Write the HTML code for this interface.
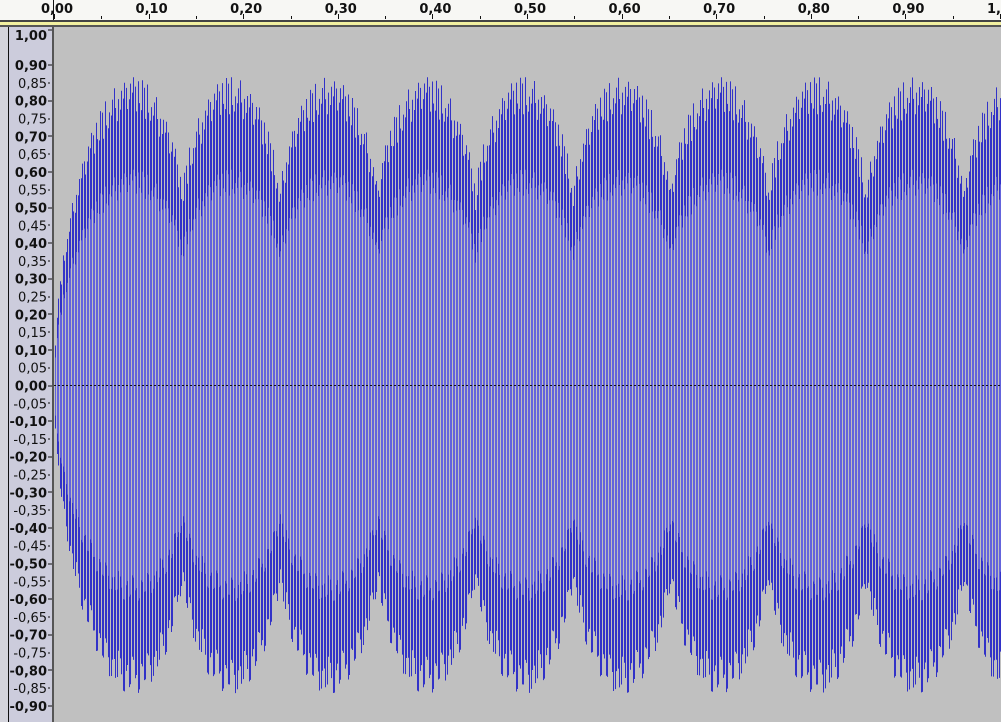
<!DOCTYPE html>
<html><head><meta charset="utf-8"><style>
html,body{margin:0;padding:0;width:1001px;height:722px;overflow:hidden;background:#c0c0c0}
svg{display:block;font-family:"DejaVu Sans","Liberation Sans",sans-serif}
</style></head><body>
<svg id="chart" width="1001" height="722" xmlns="http://www.w3.org/2000/svg">
<rect x="0" y="0" width="1001" height="21" fill="#f7f7f4"/>
<rect x="0" y="20" width="1001" height="2" fill="#444"/>
<rect x="0" y="22" width="1001" height="3" fill="#f2f0a0"/>
<rect x="0" y="25" width="1001" height="2" fill="#555"/>
<rect x="0" y="27" width="9" height="695" fill="#d4d4dc"/>
<rect x="9" y="27" width="44" height="695" fill="#ccccdc"/>
<rect x="8" y="27" width="1" height="695" fill="#111"/>
<rect x="53" y="27" width="948" height="695" fill="#c0c0c0"/>
<g id="wave"></g>
<g id="axes"></g>
<rect x="52" y="27" width="2" height="695" fill="#555"/>
</svg>
<script>
// Chart data
const yTickValues = [1.0,0.9,0.85,0.8,0.75,0.7,0.65,0.6,0.55,0.5,0.45,0.4,0.35,0.3,0.25,0.2,0.15,0.1,0.05,0,-0.05,-0.1,-0.15,-0.2,-0.25,-0.3,-0.35,-0.4,-0.45,-0.5,-0.55,-0.6,-0.65,-0.7,-0.75,-0.8,-0.85,-0.9];
const xTickValues = [0,0.1,0.2,0.3,0.4,0.5,0.6,0.7,0.8,0.9,1.0];
const envelopeRange = [0.53, 0.866];
const beatFrequency = [9.68];
const firstBeatPeak = [0.0835];
const columnGain = [0.97,0.9,1.0,0.93,0.98,0.88,0.95,1.0,0.91,0.97,0.89,0.94,0.99,0.92];

const svg = document.getElementById('chart');
const NS = 'http://www.w3.org/2000/svg';
const X0 = 54, XS = 946, Y0 = 385.5, YS = 356;
const xScale = t => X0 + t*XS;
const yScale = v => Y0 - v*YS;
function mk(tag, attrs, parent){const e=document.createElementNS(NS,tag);for(const k in attrs)e.setAttribute(k,attrs[k]);parent.appendChild(e);return e;}
const fmt = v => (v<0?'-':'')+Math.abs(v).toFixed(2).replace('.',',');

const axes = document.getElementById('axes');
yTickValues.forEach(v=>{
  const y = yScale(v);
  const major = Math.abs(Math.round(v*100)%10)===0;
  const tk = mk('rect',{x:48,y:Math.round(y)-0.5,width:major?4:2,height:1,fill:'#111'},axes);
  
  
  let ly = y+5; if (v===1.0) ly = 40;
  const t = mk('text',{x:47,y:ly,'text-anchor':'end','font-size':'13','font-weight':major?'bold':'normal',fill:'#111'},axes);
  t.textContent = fmt(v);
  
  
});
xTickValues.forEach(v=>{
  const x = xScale(v);
  const tk = mk('rect',{x:Math.round(x),y:14,width:1,height:5,fill:'#111'},axes);
  
  
  const mx = mk('rect',{x:Math.round(xScale(v+0.05)),y:16,width:1,height:3,fill:'#111'},axes);
  
  
  const t = mk('text',{x:x+3,y:13,'text-anchor':'middle','font-size':'13','font-weight':'bold',fill:'#111'},axes);
  t.textContent = fmt(v);
  
  
});
const cursor = mk('rect',{x:53,y:0,width:1,height:20,fill:'#111'},axes);



const wave = document.getElementById('wave');
const [vmin, vmax] = envelopeRange;
function env(t){
  if (t < firstBeatPeak[0]) {
    return vmax*Math.pow(Math.sin(Math.PI/2*t/firstBeatPeak[0]),0.5);
  }
  const c = Math.abs(Math.cos(Math.PI*beatFrequency[0]*(t-firstBeatPeak[0])));
  return vmin + (vmax-vmin)*Math.pow(c,0.6);
}
let dark='', light='';
for(let px=54; px<1001; px++){
  if(px%3===2) continue;
  const t=(px-X0)/XS;
  const e=env(t);
  const g=columnGain[px%columnGain.length];
  const g2=columnGain[(px*5+3)%columnGain.length];
  const top=yScale(e*g), bot=yScale(-e*g2);
  const rt=yScale(e*0.7*g), rb=yScale(-e*0.7*g2);
  dark += `M${px+0.5} ${top}V${bot}`;
  light += `M${px+0.5} ${rt}V${rb}`;
}
const dp = mk('path',{d:dark,stroke:'#3232c8','stroke-width':1,fill:'none'},wave);


const lp = mk('path',{d:light,stroke:'#6464dc','stroke-width':1,fill:'none'},wave);


const zl = mk('line',{x1:54,x2:1001,y1:Y0,y2:Y0,stroke:'#111','stroke-width':1,'stroke-dasharray':'2 2'},wave);


</script>
</body></html>
